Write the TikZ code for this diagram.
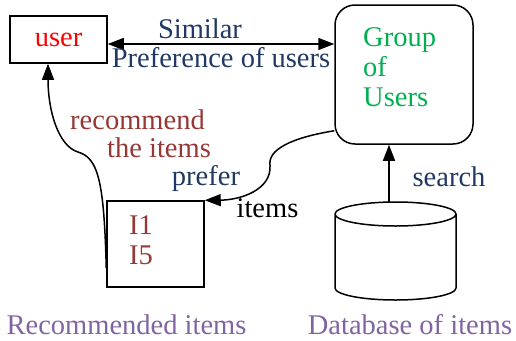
\documentclass[tikz,border=0pt]{standalone}
\usepackage{fontspec}
\setmainfont{Liberation Serif}
\usetikzlibrary{arrows.meta}
\definecolor{navy}{HTML}{1F3864}
\definecolor{brick}{HTML}{953735}
\definecolor{grn}{HTML}{00B050}
\definecolor{lilac}{HTML}{8064A2}
\begin{document}
\begin{tikzpicture}[x=1pt, y=-1pt, >={Triangle[length=16pt,width=12pt]},
  font=\fontsize{28.5}{30}\selectfont,
  box/.style={draw, line width=1.5pt, inner sep=0pt},
  lbl/.style={inner sep=0pt, anchor=center}]
\useasboundingbox (0,0) rectangle (516,340);
\node[box, minimum width=97pt, minimum height=47pt, text=red] (user) at (58.5,39.5) {user};
\node[box, rounded corners=20pt, minimum width=138pt, minimum height=139pt] (grp) at (404,74.5) {};
\node[lbl, anchor=west, align=left, text=grn] (grptext) at (363,67) {Group\\of\\Users};
\node[box, minimum width=97pt, minimum height=86pt] (items) at (155.5,244) {};
\node[lbl, anchor=west, align=left, text=brick] (itemlist) at (129,240) {I1\\I5};
% database cylinder
\draw[line width=1.5pt] (335,214) arc[start angle=180, end angle=360, x radius=60.5pt, y radius=12pt]
  arc[start angle=0, end angle=180, x radius=60.5pt, y radius=12pt] -- (335,288)
  arc[start angle=180, end angle=360, x radius=60.5pt, y radius=12pt] -- (456,214);
\coordinate (dbtop) at (389,202.5);
% connectors
\draw[<->, line width=1.5pt] ([yshift=-4.5pt]user.east) -- ([yshift=-4.5pt]grp.west |- user.east)
  node[midway, above=1pt, text=navy, xshift=-21pt] (sim) {Similar}
  node[midway, below=-1pt, text=navy] (pref) {Preference of users};
\draw[->, line width=1.5pt] (dbtop) -- (dbtop |- grp.south);
\draw[->, line width=1.5pt] ([yshift=-24pt]items.west) .. controls (104,180) and (98,158) .. (78,152)
  .. controls (58,146) and (48,110) .. ([xshift=-10.5pt]user.south);
\draw[->, line width=1.5pt] ([yshift=14pt]grp.south west) .. controls (290,138) and (268,150) .. (270,165)
  .. controls (272,190) and (240,200) .. (items.north east);
% labels
\node[lbl, text=brick] (rec1) at (137.5,120) {recommend};
\node[lbl, text=brick] (rec2) at (159,148) {the items};
\node[lbl, text=navy] (prefer) at (206,178) {prefer};
\node[lbl] (itm) at (267.5,208) {items};
\node[lbl, text=navy] (srch) at (449,177) {search};
\node[lbl, text=lilac] (recitems) at (126.5,325) {Recommended items};
\node[lbl, text=lilac] (dbitems) at (410,325) {Database of items};
\end{tikzpicture}
\end{document}
